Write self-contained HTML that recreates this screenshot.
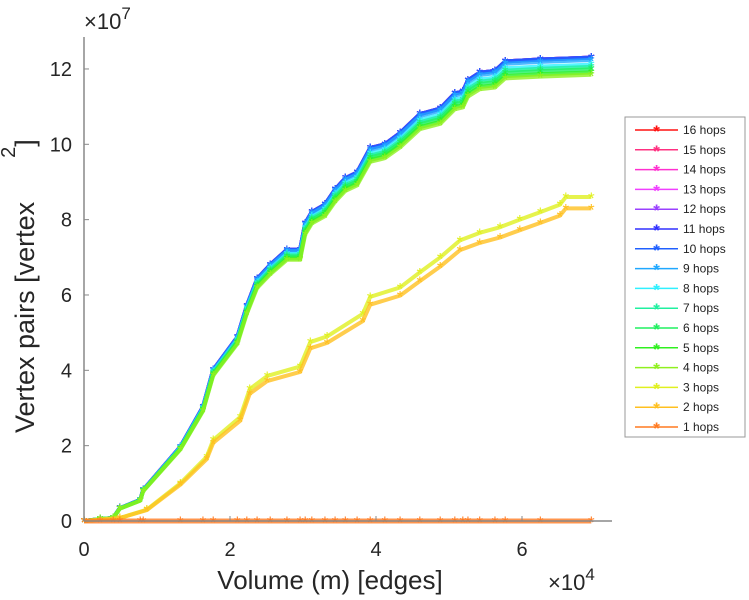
<!DOCTYPE html>
<html><head><meta charset="utf-8"><style>
body{margin:0;background:#fff}
svg{display:block;font-family:"Liberation Sans",sans-serif}
</style></head><body>
<svg id="chart" width="749" height="600" viewBox="0 0 749 600" xmlns="http://www.w3.org/2000/svg">
<g id="series"></g>
<g id="axes"></g>
<g id="legend"></g>
</svg>
<script>
const volumeX = [0,0.22,0.40,0.49,0.77,0.81,1.32,1.63,1.77,2.10,2.23,2.37,2.55,2.78,2.96,3.03,3.12,3.30,3.44,3.58,3.74,3.92,4.12,4.33,4.60,4.88,5.08,5.19,5.26,5.42,5.63,5.77,6.25,6.95];
const upperPairs = [0,0.05,0.08,0.34,0.56,0.82,1.97,3.03,4.01,4.88,5.71,6.42,6.8,7.2,7.2,7.9,8.2,8.4,8.8,9.1,9.25,9.9,10.0,10.3,10.8,10.95,11.35,11.4,11.7,11.9,11.95,12.2,12.25,12.3];
const lowerX = [0,0.49,0.86,1.32,1.68,1.77,2.14,2.27,2.51,2.96,3.10,3.33,3.82,3.92,4.33,4.60,4.88,5.15,5.42,5.70,5.97,6.25,6.52,6.60,6.95];
const lowerPairs = [0,0.08,0.3,1.0,1.7,2.15,2.76,3.5,3.85,4.1,4.75,4.9,5.5,5.95,6.2,6.6,7.0,7.45,7.65,7.8,8.0,8.2,8.4,8.6,8.6];
const hopLabels = ["16 hops","15 hops","14 hops","13 hops","12 hops","11 hops","10 hops","9 hops","8 hops","7 hops","6 hops","5 hops","4 hops","3 hops","2 hops","1 hops"];
const hopColors = ["#ff1010","#ff3080","#ff30d0","#f040ff","#9a40ff","#3030ff","#2060ff","#20a8ff","#30f0ff","#20f0a0","#20f060","#30f020","#90f020","#e0f020","#ffc020","#ff7a20"];
const hopGroup = ["u","u","u","u","u","u","u","u","u","u","u","u","u","l","l","z"];
const hopScale = [1,1,1,1,1,1,1,0.995,0.985,0.98,0.975,0.968,0.963,1,0.965,0];
const xTicks = [0,2,4,6];
const yTicks = [0,2,4,6,8,10,12];

const X0=84, XPER=73, Y0=521, YPER=37.67;
const sx = v => X0 + v*XPER;
const sy = v => Y0 - v*YPER;
const NS="http://www.w3.org/2000/svg";
function mk(tag, attrs, parent){const e=document.createElementNS(NS,tag);for(const k in attrs)e.setAttribute(k,attrs[k]);parent.appendChild(e);return e;}

const sg=document.getElementById('series');
for(let i=0;i<hopLabels.length;i++){
  const xs = hopGroup[i]==="l"?lowerX:volumeX;
  const ys = hopGroup[i]==="l"?lowerPairs:upperPairs;
  const pts = xs.map((x,j)=>sx(x)+","+sy(ys[j]*hopScale[i])).join(" ");
  const g=mk('g',{},sg);
  
  
  const pl=mk('polyline',{points:pts,fill:"none",stroke:hopColors[i],"stroke-width":hopGroup[i]==="z"?5:4,"stroke-linejoin":"round","stroke-opacity":0.8},g);
  
  
  xs.forEach((x,j)=>{
    const t=mk('text',{x:sx(x),y:sy(ys[j]*hopScale[i])+7,"text-anchor":"middle","font-size":17,fill:hopColors[i]},g);
    t.textContent="*";
    
    
  });
}

const ax=document.getElementById('axes');
const c="#262626";
let l=mk('line',{x1:X0,y1:Y0,x2:612,y2:Y0,stroke:"#888","stroke-width":1.5},ax);

l=mk('line',{x1:X0,y1:Y0,x2:X0,y2:37,stroke:"#888","stroke-width":1.5},ax);

xTicks.forEach(v=>{
  mk('line',{x1:sx(v),y1:Y0,x2:sx(v),y2:Y0-5,stroke:"#888"},ax);
  const t=mk('text',{x:sx(v),y:556,"text-anchor":"middle","font-size":20,fill:c},ax);
  t.textContent=v;
  
  
});
yTicks.forEach(v=>{
  mk('line',{x1:X0,y1:sy(v),x2:X0+5,y2:sy(v),stroke:"#888"},ax);
  const t=mk('text',{x:72,y:sy(v)+7,"text-anchor":"end","font-size":20,fill:c},ax);
  t.textContent=v;
  
  
});
let t=mk('text',{x:84,y:29,"font-size":22,fill:c},ax);
t.innerHTML='×10<tspan dy="-10" font-size="17">7</tspan>';

t=mk('text',{x:548,y:590,"font-size":22,fill:c},ax);
t.innerHTML='×10<tspan dy="-10" font-size="17">4</tspan>';

t=mk('text',{x:330,y:589,"text-anchor":"middle","font-size":26,fill:c},ax);
t.textContent="Volume (m) [edges]";

t=mk('text',{x:0,y:0,"font-size":27,fill:c,transform:"translate(34,433) rotate(-90)"},ax);
t.innerHTML='Vertex pairs [vertex<tspan dx="44" dy="-19" font-size="20">2</tspan><tspan dy="19">]</tspan>';


const lg=document.getElementById('legend');
l=mk('rect',{x:625,y:117,width:120,height:320,fill:"#fff",stroke:"#999"},lg);

hopLabels.forEach((lab,i)=>{
  const y=130+i*19.8;
  const g=mk('g',{},lg);
  
  
  mk('line',{x1:635,y1:y,x2:678,y2:y,stroke:hopColors[i],"stroke-width":1.5},g);
  const m=mk('text',{x:656.5,y:y+7,"text-anchor":"middle","font-size":17,fill:hopColors[i],"font-weight":"bold"},g);
  m.textContent="*";
  const tx=mk('text',{x:683,y:y+4,"font-size":12,fill:"#222"},g);
  tx.textContent=lab;
});
</script>
</body></html>
